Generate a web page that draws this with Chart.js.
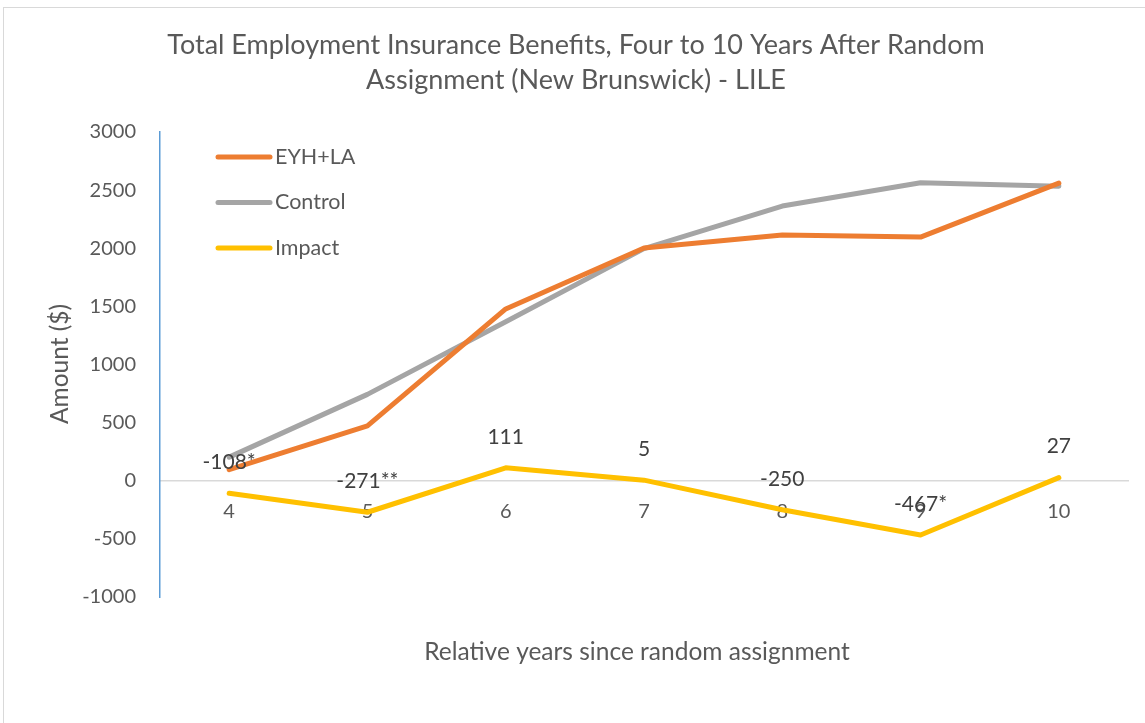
<!DOCTYPE html>
<html>
<head>
<meta charset="utf-8">
<script src="https://cdn.jsdelivr.net/npm/chart.js@4"></script>
<style>
  body { margin: 0; background: #fff; }
  #wrap { position: relative; width: 1145px; height: 723px; }
  #frame { position: absolute; left: 3px; top: 7px; width: 1150px; height: 730px; border: 1px solid #d9d9d9; }
  canvas { position: absolute; left: 0; top: 0; }
</style>
</head>
<body>
<div id="wrap">
  <div id="frame"></div>
  <canvas id="chart" width="1145" height="723"></canvas>
</div>
<script>
// данные
const years = ["4", "5", "6", "7", "8", "9", "10"];
const eyhValues = [95, 472, 1478, 2002, 2113, 2096, 2560];
const controlValues = [203, 743, 1367, 1997, 2363, 2563, 2533];
const impactValues = [-108, -271, 111, 5, -250, -467, 27];
const impactLabels = ["-108*", "-271**", "111", "5", "-250", "-467*", "27"];
const yTicks = [-1000, -500, 0, 500, 1000, 1500, 2000, 2500, 3000];

const FONT = "Lato, 'Open Sans', sans-serif";
const TEXT = "#595959";

// подписи, легенда, заголовки
const extras = {
  id: "extras",
  afterDatasetsDraw(chart) {
    const c = chart.ctx;
    c.save();

    // заголовок
    c.fillStyle = TEXT;
    c.textAlign = "center";
    c.textBaseline = "middle";
    c.font = "27px " + FONT;
    c.fillText("Total Employment Insurance Benefits, Four to 10 Years After Random", 576, 45);
    c.fillText("Assignment (New Brunswick) - LILE", 576, 80);

    // подпись оси X
    c.font = "24.5px " + FONT;
    c.fillText("Relative years since random assignment", 637, 652);

    // подпись оси Y
    c.save();
    c.translate(60, 364);
    c.rotate(-Math.PI / 2);
    c.fillText("Amount ($)", 0, 0);
    c.restore();

    // подписи значений Impact
    const meta = chart.getDatasetMeta(2);
    c.fillStyle = "#404040";
    c.font = "21px " + FONT;
    meta.data.forEach((pt, i) => {
      c.fillText(impactLabels[i], pt.x, pt.y - 31);
    });

    // легенда
    c.textAlign = "left";
    c.font = "21.5px " + FONT;
    chart.data.datasets.forEach((ds, i) => {
      const y = 157 + i * 45.5;
      c.strokeStyle = ds.borderColor;
      c.lineWidth = 5;
      c.lineCap = "round";
      c.beginPath();
      c.moveTo(218, y);
      c.lineTo(270, y);
      c.stroke();
      c.fillStyle = TEXT;
      c.fillText(ds.label, 275, y);
    });
    c.restore();
  },
};

const ctx = document.getElementById("chart").getContext("2d");
const chart = new Chart(ctx, {
  type: "line",
  data: {
    labels: years,
    datasets: [
      { label: "EYH+LA", data: eyhValues, borderColor: "#ed7d31" },
      { label: "Control", data: controlValues, borderColor: "#a5a5a5" },
      { label: "Impact", data: impactValues, borderColor: "#ffc000" },
    ],
  },
  options: {
    responsive: false,
    animation: false,
    layout: { padding: { left: 0, top: 132, right: 17, bottom: 126 } },
    elements: {
      line: { borderWidth: 5, tension: 0, borderCapStyle: "round", borderJoinStyle: "round" },
      point: { radius: 0 },
    },
    plugins: {
      legend: { display: false },
      title: { display: false },
      tooltip: { enabled: false },
    },
    scales: {
      x: {
        position: { y: 0 },
        offset: true,
        grid: { display: false, drawTicks: false },
        border: { display: true, color: "#d9d9d9", width: 1.5 },
        ticks: { color: TEXT, font: { family: FONT, size: 20 }, padding: 19 },
      },
      y: {
        min: -1000,
        max: 3000,
        afterFit: (s) => { s.width = 160; },
        afterBuildTicks: (s) => { s.ticks = yTicks.map((v) => ({ value: v })); },
        grid: { display: false, drawTicks: false },
        border: { display: true, color: "#5b9bd5", width: 1.5 },
        ticks: {
          color: TEXT,
          font: { family: FONT, size: 20 },
          padding: 24,
          callback: (v) => String(v),
        },
      },
    },
  },
  plugins: [extras],
});
</script>
</body>
</html>
